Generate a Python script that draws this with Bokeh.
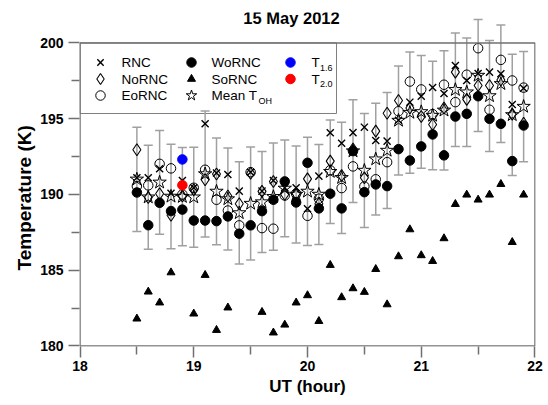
from bokeh.plotting import figure
from bokeh.models import Range1d, FixedTicker, Label, Title
from bokeh.core.properties import value
from bokeh.embed import file_html
from bokeh.resources import INLINE

nan = float("nan")

# Universal time of each sample (hours)
ut = [18.5, 18.6, 18.7, 18.8, 18.9, 19.0, 19.1, 19.2, 19.3, 19.4,
      19.5, 19.6, 19.7, 19.8, 19.9, 20.0, 20.1, 20.2, 20.3, 20.4,
      20.5, 20.6, 20.7, 20.8, 20.9, 21.0, 21.1, 21.2, 21.3, 21.4,
      21.5, 21.6, 21.7, 21.8, 21.9]

# OH rotational temperatures (K) for each viewing direction
rnc = [191.1, 191.1, 191.7, 190.07, 190.92, 190.44, 194.66, 191.41, 191.32, 190.22,
       191.47, 190.22, 190.92, 190.44, 190.44, 189.06, 191.21, 194.07, 193.38, 194.08,
       194.44, 193.56, 193.52, 194.9, 196.09, 196.48, 197.06, 196.66, 198.51, 197.52,
       197.98, 198.07, 197.96, 195.94, 197.01]
nornc = [192.95, 189.8, 190.05, 188.63, 189.9, 190.3, 190.97, 191.35, 189.9, 189.39,
         191.4, 190.2, 190.85, 190.0, 190.05, 191.03, 189.39, 192.2, 191.25, 193.0,
         191.1, 194.18, 195.36, 196.2, 195.7, 195.14, 194.62, 195.7, 198.07, 196.27,
         197.19, 197.19, 197.55, 195.3, 194.7]
eornc = [190.55, 190.6, 192.02, 191.72, 190.0, 190.44, 191.63, 189.65, 188.94, 187.96,
         191.47, 187.78, 187.74, 189.93, 190.05, 188.59, 189.72, 191.6, 190.42, 191.85,
         190.53, 191.0, 192.13, 195.49, 197.45, 196.93, 195.3, 197.24, 196.09, 197.9,
         199.65, 195.59, 198.88, 197.52, 197.05]
wornc = [190.13, 187.97, 189.45, 188.9, 189.0, 188.28, 188.28, 188.24, 188.55, 187.41,
         187.96, 188.9, 189.65, 190.86, 189.47, 192.09, 189.08, 190.05, 189.08, 192.86,
         190.15, 190.66, 190.55, 192.99, 192.24, 193.17, 193.96, 192.58, 195.14, 195.32,
         196.48, 194.99, 194.66, 192.2, 194.55]
sornc = [181.8, 183.58, 182.86, 184.85, nan, 182.13, 184.68, 181.05, 182.53, nan,
         nan, 182.24, 180.88, 181.4, 182.86, 183.34, 181.64, 185.34, 183.21, 183.8,
         183.56, 185.07, 182.74, 185.91, 187.69, 185.98, 185.6, 187.1, 189.36, 189.98,
         189.65, 189.98, 190.68, 186.85, 189.98]
mean_toh = [191.0, 189.82, 190.8, 189.87, 189.85, 189.82, 191.35, 190.2, 189.7, 188.78,
            189.4, 189.5, 189.85, 190.4, 190.0, 190.2, 190.0, 191.5, 191.1, 192.86,
            191.58, 192.33, 192.9, 194.88, 195.4, 195.45, 195.21, 195.55, 196.91, 196.75,
            197.85, 196.5, 197.3, 195.25, 195.8]
# spread of the five directions about the mean (K)
spread = [3.44, 3.43, 3.42, 3.45, 3.24, 3.3, 4.16, 3.52, 3.36, 3.37,
          3.73, 3.33, 3.54, 3.19, 3.2, 3.57, 3.3, 3.41, 3.67, 3.39,
          3.76, 3.68, 3.83, 3.6, 4.0, 3.72, 3.58, 3.93, 3.75, 3.58,
          3.7, 3.66, 3.88, 4.0, 3.64]

# two-band temperatures
t16_ut, t16 = [18.9], [192.31]
t20_ut, t20 = [18.9], [190.61]

title_text = "15 May 2012"
x_label = "UT (hour)"
y_label = "Temperature (K)"
x_ticks = [18, 19, 20, 21, 22]
x_minor = [18.5, 19.5, 20.5, 21.5]
y_ticks = [180, 185, 190, 195, 200]
y_minor = [182.5, 187.5, 192.5, 197.5]

FONT = "Liberation Sans"
FRAME_COLOR = "#707070"
BAR_COLOR = "#a0a0a0"

# Frame geometry (px) and ranges; the y range runs a little above 200 K so
# that tall error bars can poke out over the box.
W, H = 548, 405
FL, FR, FT, FB = 79, 13, 12, 59
FW, FH = W - FL - FR, H - FT - FB
X0, X1 = 17.9956, 22.0044
Y0, Y1 = 179.967, 202.006


def dx(px):
    return X0 + (px - FL) * (X1 - X0) / FW


def dy(py):
    return Y1 - (py - FT) * (Y1 - Y0) / FH


p = figure(width=W, height=H, output_backend="svg", toolbar_location=None,
           x_range=Range1d(X0, X1), y_range=Range1d(Y0, Y1),
           min_border_left=FL, min_border_right=FR,
           min_border_top=FT, min_border_bottom=FB)
p.outline_line_color = None
p.grid.visible = False

for ax, ticks, minor in ((p.xaxis[0], x_ticks, x_minor), (p.yaxis[0], y_ticks, y_minor)):
    ax.ticker = FixedTicker(ticks=ticks, minor_ticks=minor)
    ax.axis_line_color = None
    ax.major_tick_in = 0
    ax.minor_tick_in = 0
    ax.major_tick_out = 11
    ax.minor_tick_out = 8
    ax.major_tick_line_color = FRAME_COLOR
    ax.minor_tick_line_color = FRAME_COLOR
    ax.major_tick_line_width = 1.5
    ax.minor_tick_line_width = 1.5
    ax.major_label_text_font = FONT
    ax.major_label_text_font_style = "bold"
    ax.major_label_text_font_size = "14px"
    ax.major_label_text_color = "black"
p.xaxis[0].major_label_standoff = 3
p.yaxis[0].major_label_standoff = 5

xa = p.xaxis[0]
xa.axis_label = x_label
xa.axis_label_text_font = FONT
xa.axis_label_text_font_style = "bold"
xa.axis_label_text_font_size = "17px"
xa.axis_label_text_color = "black"
xa.axis_label_standoff = 3

# legend panel (behind the data)
leg_right, leg_bottom = dx(336), dy(113)
p.quad(left=[x_ticks[0]], right=[leg_right], top=[y_ticks[-1]], bottom=[leg_bottom],
       fill_color="white", line_color="#808080", line_width=1)

# error bars about the mean
lo = [m - s for m, s in zip(mean_toh, spread)]
hi = [m + s for m, s in zip(mean_toh, spread)]
p.segment(x0=ut, y0=lo, x1=ut, y1=hi, line_color=BAR_COLOR, line_width=1.5)
p.scatter(ut, lo, marker="dash", size=9, line_color=BAR_COLOR, line_width=1.5)
p.scatter(ut, hi, marker="dash", size=9, line_color=BAR_COLOR, line_width=1.5)

styles = {
    "RNC": dict(marker="x", size=10, line_color="black", line_width=1.4),
    "NoRNC": dict(marker="diamond", size=12, fill_alpha=0, line_color="black", line_width=1.1),
    "EoRNC": dict(marker="circle", size=9.5, fill_alpha=0, line_color="black", line_width=1),
    "WoRNC": dict(marker="circle", size=9.5, fill_color="black", line_color="black"),
    "SoRNC": dict(marker="triangle", size=8, fill_color="black", line_color="black"),
    "Mean": dict(marker="star", size=14, fill_alpha=0, line_color="black", line_width=1),
    "T16": dict(marker="circle", size=9.5, fill_color="#0000ff", line_color="#0000ff"),
    "T20": dict(marker="circle", size=9.5, fill_color="#ff0000", line_color="#ff0000"),
}

p.scatter(ut, mean_toh, **styles["Mean"])
p.scatter(ut, rnc, **styles["RNC"])
p.scatter(ut, nornc, **styles["NoRNC"])
p.scatter(ut, eornc, **styles["EoRNC"])
p.scatter(ut, wornc, **styles["WoRNC"])
p.scatter(ut, sornc, **styles["SoRNC"])
p.scatter(t16_ut, t16, **styles["T16"])
p.scatter(t20_ut, t20, **styles["T20"])

# box around the data area
p.line(x=[x_ticks[0], x_ticks[0], x_ticks[-1], x_ticks[-1], x_ticks[0]],
       y=[y_ticks[0], y_ticks[-1], y_ticks[-1], y_ticks[0], y_ticks[0]],
       line_color=FRAME_COLOR, line_width=1.5)

# legend entries: three columns of three rows
legend_items = [
    ("RNC", "RNC", ""), ("NoRNC", "NoRNC", ""), ("EoRNC", "EoRNC", ""),
    ("WoRNC", "WoRNC", ""), ("SoRNC", "SoRNC", ""), ("Mean", "Mean T", "OH"),
    ("T16", "T", "1.6"), ("T20", "T", "2.0"),
]
col_marker_px = [100, 191, 290]
col_text_px = [121, 211, 311]
row_px = [62, 78.5, 95]
for i, (key, label, sub) in enumerate(legend_items):
    c, r = divmod(i, 3)
    st = dict(styles[key])
    if key in ("Mean", "NoRNC"):
        st["size"] = 11
    if key == "RNC":
        st["size"] = 9
    p.scatter([dx(col_marker_px[c])], [dy(row_px[r])], **st)
    p.text(x=[dx(col_text_px[c])], y=[dy(row_px[r])], text=[label],
           text_font=value(FONT), text_font_size="13.5px", text_color="black",
           text_baseline="middle", text_align="left")
    if sub:
        off = 47 if label == "Mean T" else 8.5
        p.text(x=[dx(col_text_px[c])], y=[dy(row_px[r])], text=[sub],
               x_offset=off, y_offset=5,
               text_font=value(FONT), text_font_size="9px", text_color="black",
               text_baseline="middle", text_align="left")

p.add_layout(Label(x=291 - FL, y=(H - FB) - 17, x_units="screen", y_units="screen",
                   text=title_text, text_font=FONT, text_font_size="16.5px",
                   text_color="black",
                   text_font_style="bold", text_align="center", text_baseline="middle"))

# vertical axis title, anchored from the bottom of the frame
p.add_layout(Title(text=y_label, align="left", offset=76, standoff=6,
                   text_font=FONT, text_font_size="19px", text_font_style="bold",
                   text_color="black"), "left")

open("out.html", "w").write(file_html(p, INLINE))
